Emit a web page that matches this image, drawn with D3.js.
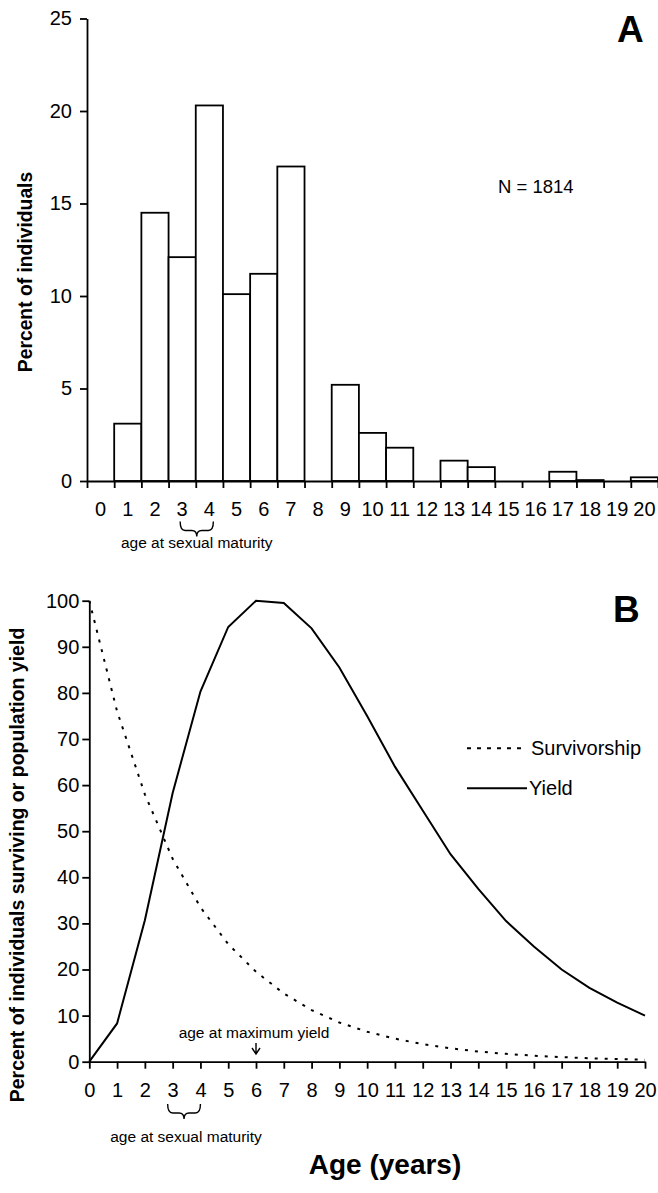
<!DOCTYPE html>
<html>
<head>
<meta charset="utf-8">
<script src="https://cdn.jsdelivr.net/npm/d3@7"></script>
<style>
  html, body { margin: 0; padding: 0; background: #fff; }
  svg { display: block; font-family: "Liberation Sans", Arial, Helvetica, sans-serif; }
  .axis path, .axis line { stroke: #000; stroke-width: 1.8; }
  .axis text { fill: #000; }
</style>
</head>
<body>
<script>
// ---------- Data ----------
const ages = [0,1,2,3,4,5,6,7,8,9,10,11,12,13,14,15,16,17,18,19,20];
const pctIndividuals = [0,3.1,14.5,12.1,20.3,10.1,11.2,17.0,0,5.2,2.6,1.8,0,1.1,0.75,0,0,0.5,0.05,0,0.2];
const pctTicks = [0,5,10,15,20,25];
const survivorship = [100,76,58,44,33.5,25.5,19.5,14.8,11.2,8.5,6.5,5.0,3.8,2.9,2.2,1.7,1.3,1.0,0.75,0.57,0.43];
const yieldVals = [0,8.3,30.7,58.3,80.3,94.3,100,99.5,94,85.5,75,64,54.5,45,37.5,30.5,25,20,16,12.8,10];
const bTicks = [0,10,20,30,40,50,60,70,80,90,100];
const sampleLabel = "N = 1814";
const legendLabels = ["Survivorship", "Yield"];

const W = 658, H = 1193;
const FONT = 20;

const svg = d3.select("body").append("svg").attr("width", W).attr("height", H);
svg.append("rect").attr("width", W).attr("height", H).attr("fill", "#fff");

// ---------- Panel A ----------
const xA = d3.scaleBand().domain(ages).range([87, 658]).padding(0);
const xAb = d3.scaleLinear().domain([0, ages.length]).range([87, 658]);
const yA = d3.scaleLinear().domain([0, 25]).range([481, 18.5]);

svg.append("g").selectAll("rect")
  .data(ages.map((a, i) => ({a, v: pctIndividuals[i]})).filter(d => d.v > 0))
  .join("rect")
  .attr("x", d => xA(d.a))
  .attr("width", xA.bandwidth())
  .attr("y", d => yA(d.v))
  .attr("height", d => yA(0) - yA(d.v))
  .attr("fill", "#fff").attr("stroke", "#000").attr("stroke-width", 1.8);

const gAy = svg.append("g").attr("class", "axis").attr("transform", "translate(87,0)")
  .call(d3.axisLeft(yA).tickValues(pctTicks).tickSize(7).tickSizeOuter(0).tickPadding(8));
gAy.selectAll("text").attr("font-size", FONT);

svg.append("g").attr("class", "axis").attr("transform", "translate(0,481)")
  .call(d3.axisBottom(xAb).tickValues(d3.range(ages.length + 1)).tickSize(7).tickSizeOuter(0).tickFormat(""));

const gAx = svg.append("g").attr("class", "axis").attr("transform", "translate(0,481)")
  .call(d3.axisBottom(xA).tickSize(0).tickPadding(21));
gAx.select(".domain").remove();
gAx.selectAll("text").attr("font-size", FONT);

svg.append("text").attr("transform", "translate(31.5,272) rotate(-90)")
  .attr("text-anchor", "middle").attr("font-weight", "bold").attr("font-size", 19.3)
  .text("Percent of individuals");

svg.append("text").attr("x", 617).attr("y", 42).attr("font-weight", "bold").attr("font-size", 37).text("A");
svg.append("text").attr("x", 498).attr("y", 193).attr("font-size", 18.5).text(sampleLabel);

function brace(x1, x2, y0) {
  const xm = (x1 + x2) / 2, y1 = y0 + 9, y2 = y0 + 15, r = 5;
  return `M${x1},${y0} Q${x1},${y1} ${x1 + r},${y1} L${xm - r},${y1} Q${xm},${y1} ${xm},${y2} ` +
         `M${xm},${y2} Q${xm},${y1} ${xm + r},${y1} L${x2 - r},${y1} Q${x2},${y1} ${x2},${y0}`;
}

const a3 = xA(3) + xA.bandwidth() / 2 - 2, a4 = xA(4) + xA.bandwidth() / 2 + 4;
svg.append("path").attr("d", brace(a3, a4, 521.5)).attr("fill", "none").attr("stroke", "#000").attr("stroke-width", 1.4);
svg.append("text").attr("x", (a3 + a4) / 2).attr("y", 548).attr("text-anchor", "middle").attr("font-size", 15.5)
  .text("age at sexual maturity");

// ---------- Panel B ----------
const xB = d3.scaleLinear().domain([0, 20]).range([89.3, 645]);
const yB = d3.scaleLinear().domain([0, 100]).range([1061.7, 600.7]);

const gBy = svg.append("g").attr("class", "axis").attr("transform", "translate(89.3,0)")
  .call(d3.axisLeft(yB).tickValues(bTicks).tickSize(7).tickSizeOuter(0).tickPadding(3));
gBy.selectAll("text").attr("font-size", FONT);

const gBx = svg.append("g").attr("class", "axis").attr("transform", "translate(0,1061.7)")
  .call(d3.axisBottom(xB).tickValues(ages).tickSize(7).tickSizeOuter(0).tickPadding(14));
gBx.selectAll("text").attr("font-size", FONT);

const line = d3.line().x((d, i) => xB(ages[i])).y(d => yB(d));

svg.append("path").attr("d", line(survivorship)).attr("fill", "none")
  .attr("stroke", "#000").attr("stroke-width", 2).attr("stroke-dasharray", "3,7");
svg.append("path").attr("d", line(yieldVals)).attr("fill", "none")
  .attr("stroke", "#000").attr("stroke-width", 2);

// legend
svg.append("line").attr("x1", 467).attr("x2", 527).attr("y1", 748.3).attr("y2", 748.3)
  .attr("stroke", "#000").attr("stroke-width", 2).attr("stroke-dasharray", "4,6");
svg.append("text").attr("x", 531).attr("y", 755).attr("font-size", FONT).text(legendLabels[0]);
svg.append("line").attr("x1", 467).attr("x2", 527).attr("y1", 788.3).attr("y2", 788.3)
  .attr("stroke", "#000").attr("stroke-width", 2);
svg.append("text").attr("x", 529).attr("y", 795).attr("font-size", FONT).text(legendLabels[1]);

svg.append("text").attr("x", 613).attr("y", 621.7).attr("font-weight", "bold").attr("font-size", 37).text("B");

// age at maximum yield
const peakAge = ages[yieldVals.indexOf(d3.max(yieldVals))];
const px = xB(peakAge);
svg.append("text").attr("x", px - 2).attr("y", 1038).attr("text-anchor", "middle").attr("font-size", 15.5)
  .text("age at maximum yield");
svg.append("path").attr("d", `M${px},1043 L${px},1054 M${px - 4},1048 L${px},1054 L${px + 4},1048`)
  .attr("fill", "none").attr("stroke", "#000").attr("stroke-width", 1.4);

const b3 = xB(3) - 5, b4 = xB(4);
svg.append("path").attr("d", brace(b3, b4, 1104)).attr("fill", "none").attr("stroke", "#000").attr("stroke-width", 1.4);
svg.append("text").attr("x", (b3 + b4) / 2 + 2).attr("y", 1141.5).attr("text-anchor", "middle").attr("font-size", 15.5)
  .text("age at sexual maturity");

svg.append("text").attr("transform", "translate(23.5,865) rotate(-90)")
  .attr("text-anchor", "middle").attr("font-weight", "bold").attr("font-size", 19.5)
  .text("Percent of individuals surviving or population yield");

svg.append("text").attr("x", 385).attr("y", 1174).attr("text-anchor", "middle")
  .attr("font-weight", "bold").attr("font-size", 28).text("Age (years)");
</script>
</body>
</html>
